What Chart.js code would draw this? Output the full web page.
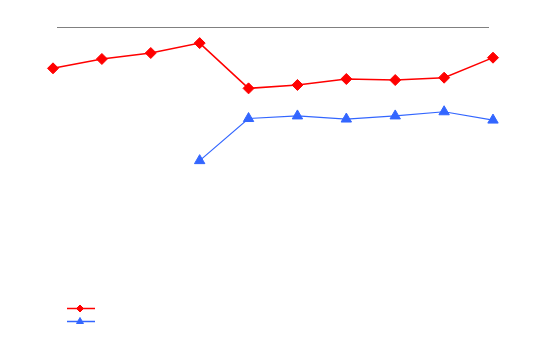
<!DOCTYPE html>
<html>
<head>
<meta charset="utf-8">
<script src="https://cdn.jsdelivr.net/npm/chart.js@4.4.0/dist/chart.umd.min.js"></script>
<style>
  html, body { margin: 0; padding: 0; background: #ffffff; }
  #box { width: 554px; height: 341px; }
</style>
</head>
<body>
<div id="box"><canvas id="chart" width="554" height="341"></canvas></div>
<script>
const categories = ["1", "2", "3", "4", "5", "6", "7", "8", "9", "10"];
const redValues = [84.1, 87.7, 90.0, 93.8, 76.4, 77.7, 80.0, 79.6, 80.5, 88.2];
const blueValues = [null, null, null, 48.6, 64.8, 65.8, 64.6, 65.8, 67.4, 64.2];

const redColor = "#ff0000";
const blueColor = "#3366ff";

// thin grey rule along the top of the plot and the small legend at bottom left
const extras = {
  id: "extras",
  afterDatasetsDraw(chart) {
    const ctx = chart.ctx;
    const area = chart.chartArea;
    ctx.save();
    ctx.strokeStyle = "#808080";
    ctx.lineWidth = 1;
    ctx.beginPath();
    ctx.moveTo(area.left + 4, area.top + 0.5);
    ctx.lineTo(area.right - 4, area.top + 0.5);
    ctx.stroke();

    const rows = [
      { color: redColor, style: "rectRot", radius: 3.5, y: 308.5 },
      { color: blueColor, style: "triangle", radius: 4, y: 321.5 },
    ];
    rows.forEach((r) => {
      ctx.strokeStyle = r.color;
      ctx.fillStyle = r.color;
      ctx.lineWidth = 1.5;
      ctx.beginPath();
      ctx.moveTo(67, r.y);
      ctx.lineTo(95, r.y);
      ctx.stroke();
      ctx.lineWidth = 1;
      Chart.helpers.drawPoint(ctx, { pointStyle: r.style, radius: r.radius, borderWidth: 1 }, 80, r.y);
    });
    ctx.restore();
  },
};

new Chart(document.getElementById("chart"), {
  type: "line",
  plugins: [extras],
  data: {
    labels: categories,
    datasets: [
      {
        data: redValues,
        borderColor: redColor,
        backgroundColor: redColor,
        borderWidth: 1.5,
        pointStyle: "rectRot",
        pointRadius: 5.5,
        pointBorderWidth: 1,
        tension: 0,
      },
      {
        data: blueValues,
        borderColor: blueColor,
        backgroundColor: blueColor,
        borderWidth: 1.2,
        pointStyle: "triangle",
        pointRadius: 6,
        pointBorderWidth: 1,
        tension: 0,
      },
    ],
  },
  options: {
    responsive: false,
    animation: false,
    clip: false,
    layout: { padding: { left: 53, right: 61, top: 27, bottom: 54 } },
    plugins: {
      legend: { display: false },
      tooltip: { enabled: false },
    },
    scales: {
      x: { display: false, offset: false },
      y: { display: false, min: 0, max: 100 },
    },
  },
});
</script>
</body>
</html>
